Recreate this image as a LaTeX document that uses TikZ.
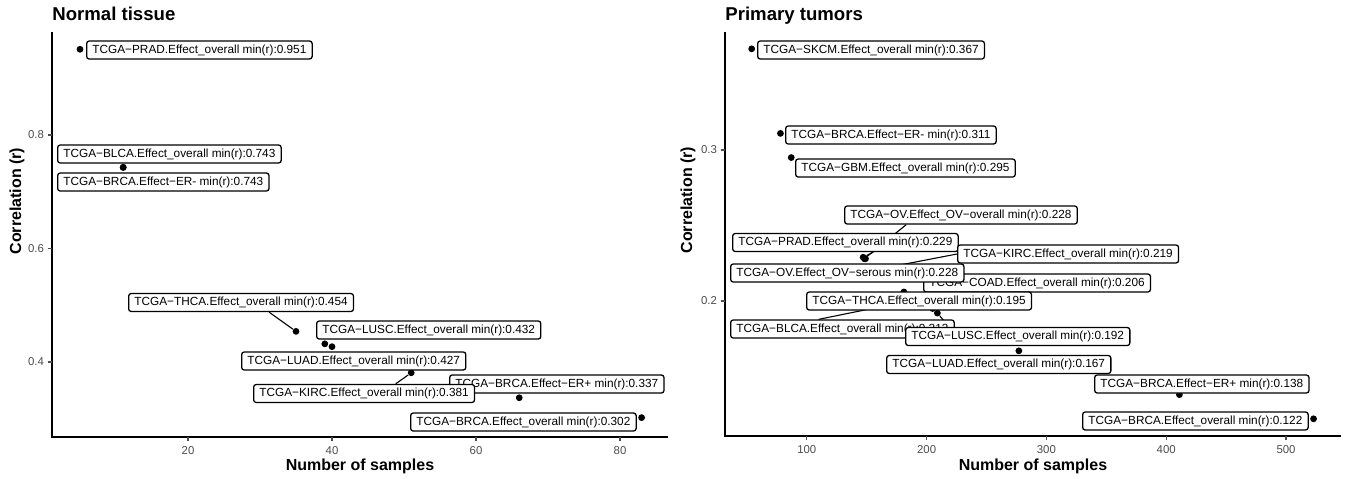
\documentclass[tikz,border=0pt]{standalone}
\usepackage{fontspec}
\setmainfont{Liberation Sans}
\usetikzlibrary{backgrounds}

\begin{document}
\begin{tikzpicture}[x=0.5pt, y=-0.5pt,
  % data points
  dot/.style={circle, fill=black, inner sep=0pt, minimum size=3.4pt},
  % repelled labels - rounded white boxes
  lab/.style={rectangle, draw=black, fill=white, line width=0.65pt, rounded corners=1.3pt, anchor=west,
    font=\fontsize{5.9}{7}\selectfont, inner xsep=2.9pt, inner ysep=1.8pt, text height=4.2pt, text depth=1.2pt},
  % leader segments from point to label
  seg/.style={line width=0.55pt},
  axis/.style={line width=0.65pt},
  ticklab/.style={font=\fontsize{5.7}{6}\selectfont, text=black!70, inner sep=0pt},
  axtitle/.style={font=\bfseries\fontsize{8}{9}\selectfont},
  paneltitle/.style={font=\bfseries\fontsize{9.3}{10}\selectfont, anchor=base west, inner sep=0pt}
]
\useasboundingbox (0,0) rectangle (1348,478);

% ===== LEFT PANEL: normal tissue =====
\node[paneltitle] (n-title) at (52,20) {Normal tissue};
\node[axtitle, rotate=90] (n-ytitle) at (17,201) {Correlation (r)};
\node[axtitle, anchor=base] (n-xtitle) at (360,470) {Number of samples};

\begin{scope}[shift={(44,589)}, x=3.6pt, y=283.75pt]
  \draw[axis] (1.11,0.9815) -- (1.11,0.2678) -- (86.67,0.2678);
  \foreach \n in {20,40,60,80}
    \draw[axis, black!70] (\n,0.2678) -- ++(0,-2.2pt) node[ticklab, below=2pt] {\n};
  \foreach \r in {0.4,0.6,0.8}
    \draw[axis, black!70] (1.11,\r) -- ++(-2.2pt,0) node[ticklab, left=1.5pt] {\r};

  \node[dot] (n-prad) at (5,0.951) {};
  \node[dot] (n-blca) at (11,0.743) {};
  \node[dot] (n-brcaneg) at (11,0.743) {};
  \node[dot] (n-thca) at (35,0.454) {};
  \node[dot] (n-lusc) at (39,0.432) {};
  \node[dot] (n-luad) at (40,0.427) {};
  \node[dot] (n-kirc) at (51,0.381) {};
  \node[dot] (n-brcapos) at (66,0.337) {};
  \node[dot] (n-brca) at (83,0.302) {};
\end{scope}

\node[lab] (n-prad-l) at (86,50) {TCGA−PRAD.Effect\_overall min(r):0.951};
\node[lab] (n-blca-l) at (57,154) {TCGA−BLCA.Effect\_overall min(r):0.743};
\node[lab] (n-brcaneg-l) at (57,182) {TCGA−BRCA.Effect−ER- min(r):0.743};
\node[lab] (n-thca-l) at (128,302.5) {TCGA−THCA.Effect\_overall min(r):0.454};
\node[lab] (n-lusc-l) at (316,330) {TCGA−LUSC.Effect\_overall min(r):0.432};
\node[lab] (n-luad-l) at (241,361) {TCGA−LUAD.Effect\_overall min(r):0.427};
\node[lab] (n-brcapos-l) at (449,384) {TCGA−BRCA.Effect−ER+ min(r):0.337};
\node[lab] (n-kirc-l) at (253,393.5) {TCGA−KIRC.Effect\_overall min(r):0.381};
\node[lab] (n-brca-l) at (410,422) {TCGA−BRCA.Effect\_overall min(r):0.302};

\begin{pgfonlayer}{background}
  \draw[seg] (n-thca) -- (n-thca-l.341);
  \draw[seg] (n-kirc) -- (n-kirc-l.17);
\end{pgfonlayer}

% ===== RIGHT PANEL: primary tumors =====
\node[paneltitle] (t-title) at (725,20) {Primary tumors};
\node[axtitle, rotate=90] (t-ytitle) at (688,200) {Correlation (r)};
\node[axtitle, anchor=base] (t-xtitle) at (1033,470) {Number of samples};

\begin{scope}[shift={(687,603)}, x=0.599pt, y=755pt]
  \draw[axis] (31.72,0.3781) -- (31.72,0.1106) -- (545.9,0.1106);
  \foreach \n in {100,200,300,400,500}
    \draw[axis, black!70] (\n,0.1106) -- ++(0,-2.2pt) node[ticklab, below=2pt] {\n};
  \foreach \r in {0.2,0.3}
    \draw[axis, black!70] (31.72,\r) -- ++(-2.2pt,0) node[ticklab, left=1.5pt] {\r};

  \node[dot] (t-skcm) at (54,0.367) {};
  \node[dot] (t-brcaneg) at (78,0.311) {};
  \node[dot] (t-gbm) at (87,0.295) {};
  \node[dot] (t-kirc) at (146,0.219) {};
  \node[dot] (t-prad) at (147,0.229) {};
  \node[dot] (t-ov) at (148,0.228) {};
  \node[dot] (t-ovser) at (149,0.228) {};
  \node[dot] (t-coad) at (181,0.206) {};
  \node[dot] (t-thca) at (205,0.195) {};
  \node[dot] (t-lusc) at (209,0.192) {};
  \node[dot] (t-blca) at (266,0.213) {};
  \node[dot] (t-luad) at (277,0.167) {};
  \node[dot] (t-brcapos) at (411,0.138) {};
  \node[dot] (t-brca) at (523,0.122) {};
\end{scope}

\node[lab] (t-skcm-l) at (757,50) {TCGA−SKCM.Effect\_overall min(r):0.367};
\node[lab] (t-brcaneg-l) at (785,135) {TCGA−BRCA.Effect−ER- min(r):0.311};
\node[lab] (t-gbm-l) at (795,168) {TCGA−GBM.Effect\_overall min(r):0.295};
\node[lab] (t-ov-l) at (844,215) {TCGA−OV.Effect\_OV−overall min(r):0.228};
\node[lab] (t-prad-l) at (732,242.5) {TCGA−PRAD.Effect\_overall min(r):0.229};
\node[lab] (t-kirc-l) at (957,254) {TCGA−KIRC.Effect\_overall min(r):0.219};
\node[lab] (t-coad-l) at (923,283) {TCGA−COAD.Effect\_overall min(r):0.206};
\node[lab] (t-ovser-l) at (730,273) {TCGA−OV.Effect\_OV−serous min(r):0.228};
\node[lab] (t-thca-l) at (806,301) {TCGA−THCA.Effect\_overall min(r):0.195};
\node[lab] (t-blca-l) at (730,329) {TCGA−BLCA.Effect\_overall min(r):0.213};
\node[lab] (t-lusc-l) at (905,336.5) {TCGA−LUSC.Effect\_overall min(r):0.192};
\node[lab] (t-luad-l) at (886,364.5) {TCGA−LUAD.Effect\_overall min(r):0.167};
\node[lab] (t-brcapos-l) at (1094,384) {TCGA−BRCA.Effect−ER+ min(r):0.138};
\node[lab] (t-brca-l) at (1082,421) {TCGA−BRCA.Effect\_overall min(r):0.122};

\begin{pgfonlayer}{background}
  \draw[seg] (t-ov) -- (t-ov-l.190);
  \draw[seg] (t-prad) -- (t-prad-l.341);
  \draw[seg] (t-kirc) -- (t-kirc-l.west);
  \draw[seg] (t-blca) -- (t-blca-l.158);
  \draw[seg] (t-lusc) -- (t-lusc-l.172);
\end{pgfonlayer}

\end{tikzpicture}
\end{document}
